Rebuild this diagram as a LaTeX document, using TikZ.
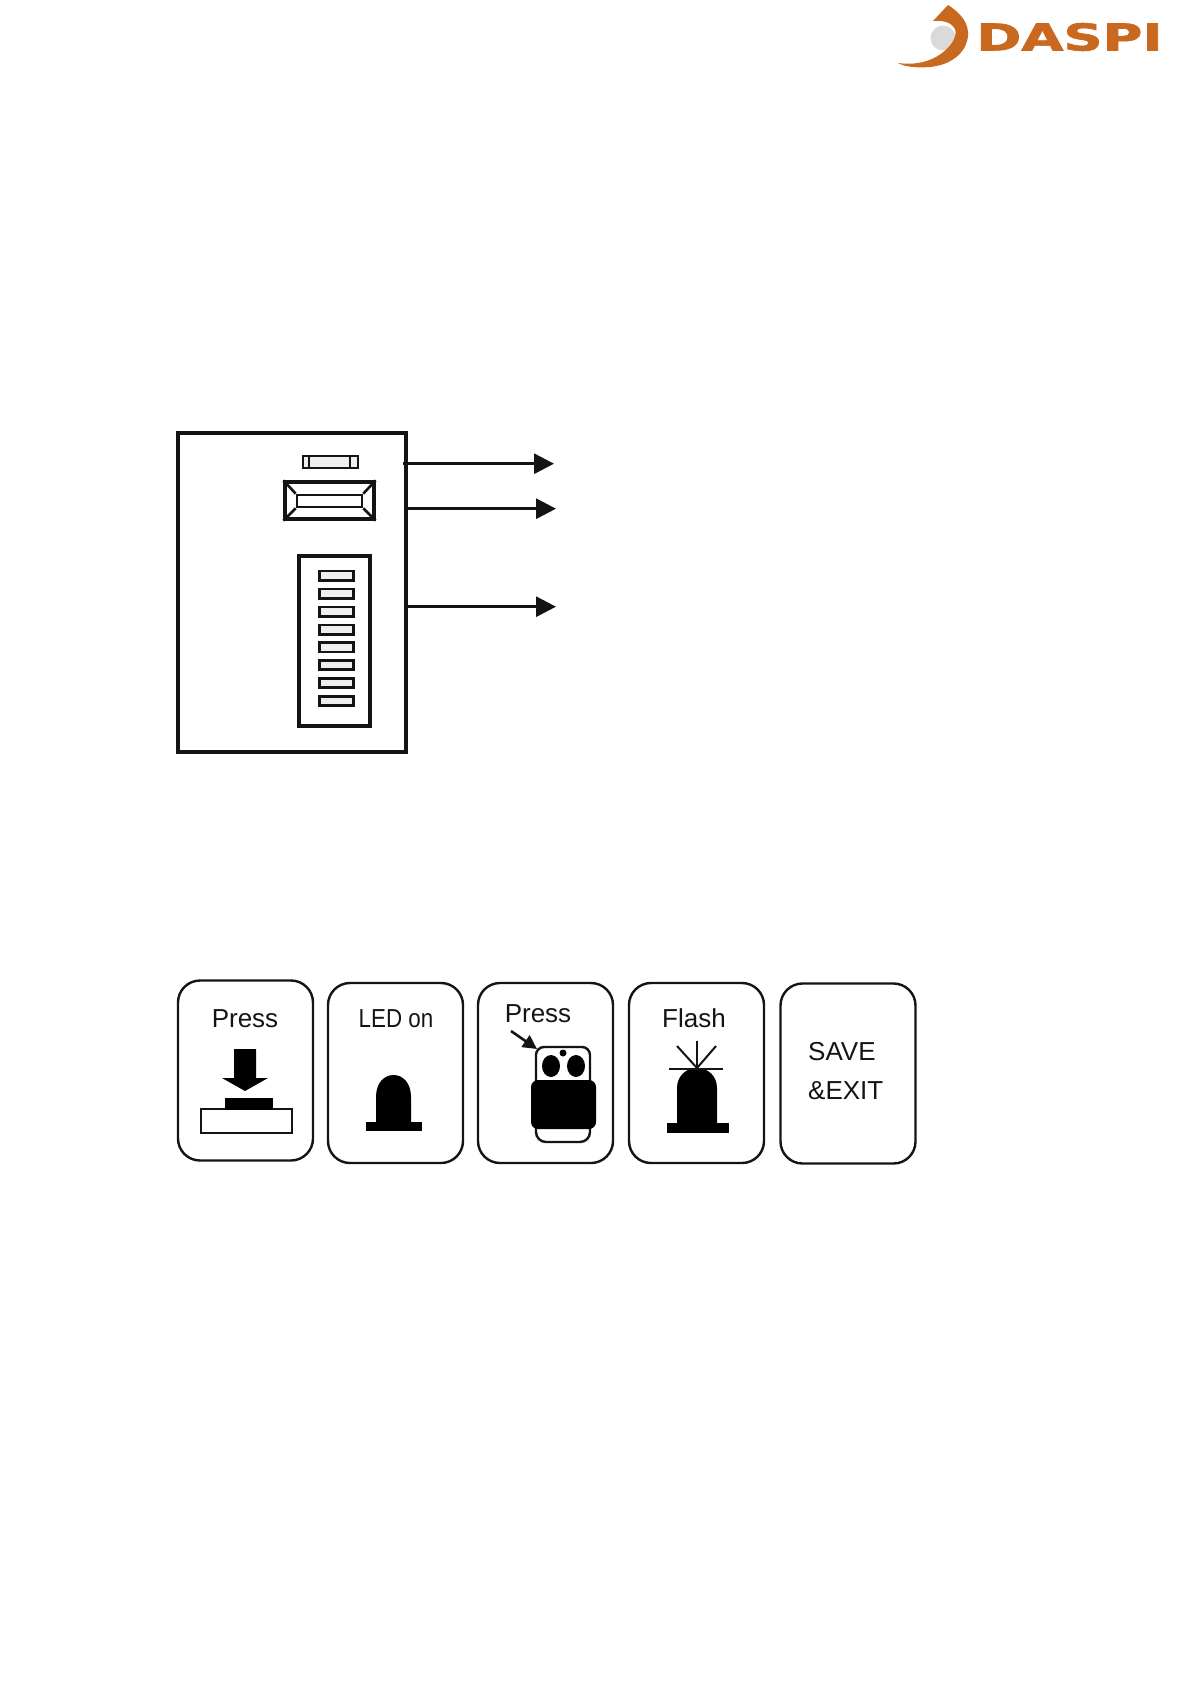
\documentclass[tikz,border=0pt]{standalone}
\usepackage{fontspec}
\setmainfont{Liberation Sans}
\newfontfamily\logofont[FakeBold=1.6]{DejaVu Sans Bold}
\usetikzlibrary{
  arrows.meta,
  calc,
  positioning
}
\definecolor{ink}{HTML}{141414}
\definecolor{brand}{HTML}{C9681F}
\definecolor{moon}{HTML}{DADADA}
\definecolor{cellgrey}{HTML}{EFEFEF}
\tikzset{
  signal/.style={
    -{Triangle[length=20pt,width=20pt]},
    line width=3pt,
    draw=ink
  },
  housing/.style={
    draw=ink,
    fill=white,
    line width=3.1pt,
    inner sep=0pt
  },
  ledcell/.style={
    draw=ink,
    fill=cellgrey,
    line width=2.6pt,
    minimum width=34pt,
    minimum height=9.5pt,
    inner sep=0pt
  },
  panel/.style={
    draw=ink,
    fill=white,
    line width=2.4pt,
    rounded corners=22pt,
    minimum width=135pt,
    minimum height=180pt,
    inner sep=0pt
  },
  caption/.style={
    anchor=base,
    text=ink,
    inner sep=0pt,
    font=\fontsize{26}{30}\selectfont
  },
  solid ink/.style={
    fill=black,
    draw=none
  }
}

\begin{document}
\begin{tikzpicture}[x=1pt, y=-1pt]
  \useasboundingbox (0,0) rectangle (1191,1684);

  % Logo.
  \fill[moon] (943,38) circle (12.5);
  \fill[brand] (948,5) .. controls (962,14) and (969,24) .. (968,36)
    .. controls (966,54) and (950,65) .. (930,67)
    .. controls (917,68) and (905,67) .. (898,63)
    .. controls (912,65) and (925,63) .. (936,57)
    .. controls (950,49) and (958,37) .. (955,29)
    .. controls (952,23) and (944,20) .. (933,21) -- cycle;
  \node[inner sep=0pt, text=brand, font=\logofont\fontsize{37}{37}\selectfont,
    anchor=west] (logotext) at (976,37) {\scalebox{1.47}[1]{DASPI}};

  % Controller board.
  \node[housing, minimum width=228pt, minimum height=319pt] (board)
    at (292,592.5) {};
  \node[housing, line width=2.6pt, fill=cellgrey, minimum width=55pt,
    minimum height=12pt] (fuse) at (330.5,462) {};
  \draw[ink, line width=2pt] ($(fuse.west)+(7,-6)$) -- ++(0,12);
  \draw[ink, line width=2pt] ($(fuse.east)+(-9,-6)$) -- ++(0,12);
  \node[housing, minimum width=89pt, minimum height=37pt] (button)
    at (329.5,500.5) {};
  \node[draw=ink, line width=2.6pt, minimum width=65pt, minimum height=12pt,
    inner sep=0pt] (buttonface) at (329.5,501) {};
  \foreach \corner in {north west, north east, south west, south east}
    \draw[ink, line width=2.6pt] (button.\corner) -- (buttonface.\corner);
  \node[housing, minimum width=71pt, minimum height=170pt] (strip)
    at (334.5,641) {};
  \foreach \n/\y in {1/575.7, 2/593.7, 3/611.7, 4/629.7,
    5/647.3, 6/665, 7/683, 8/701}
    \node[ledcell] (led\n) at (336.5,\y) {};

  % Arrows out of the board.
  \coordinate (fusefrom) at (403,463.7);
  \coordinate (fuseto) at (554,463.7);
  \coordinate (buttonfrom) at (board.east |- 0,508.7);
  \coordinate (buttonto) at (556,508.7);
  \coordinate (stripfrom) at (board.east |- 0,606.7);
  \coordinate (stripto) at (556,606.7);
  \draw[signal] (fusefrom) -- (fuseto);
  \draw[signal] (buttonfrom) -- (buttonto);
  \draw[signal] (stripfrom) -- (stripto);

  % Press.
  \node[panel] (presspanel) at (245.5,1070.5) {};
  \node[caption] (presstext) at (245,1027) {Press};
  \fill[black] (234,1049) -- (256,1049) -- (256,1078) -- (268,1078)
    -- (245,1091) -- (222,1078) -- (234,1078) -- cycle;
  \node[housing, line width=2.6pt, minimum width=91pt, minimum height=24pt]
    (pressbase) at (246.5,1121) {};
  \node[solid ink, minimum width=48pt, minimum height=12pt, inner sep=0pt]
    (presscap) at (249,1104) {};

  % LED on.
  \node[panel] (ledpanel) at (395.5,1073) {};
  \node[caption] (ledtext) at (396,1027) {\scalebox{0.86}[1]{LED on}};
  \node[solid ink, minimum width=56pt, minimum height=9pt, inner sep=0pt]
    (ledbase) at (394,1126.5) {};
  \fill[black] (376,1123) -- (376,1097) .. controls (376,1083) and (384,1075) .. (393.5,1075)
    .. controls (403,1075) and (411,1083) .. (411,1097) -- (411,1123) -- cycle;

  % Remote.
  \node[panel] (remotepanel) at (545.5,1073) {};
  \node[caption] (remotetext) at (538,1022) {Press};
  \draw[ink, line width=2.4pt, rounded corners=8pt, fill=white]
    (536,1085) -- (536,1047) -- (590,1047) -- (590,1085);
  \draw[ink, line width=2.4pt, rounded corners=10pt, fill=white]
    (536,1120) -- (536,1142) -- (590,1142) -- (590,1120);
  \node[solid ink, rounded corners=7pt, minimum width=65pt, minimum height=49pt,
    inner sep=0pt] (remotebody) at (563.5,1104.5) {};
  \fill[black] (551,1066) ellipse (9 and 11);
  \fill[black] (576,1066) ellipse (9 and 11);
  \fill[black] (563,1053) circle (3.5);
  \coordinate (remotefrom) at (511,1031);
  \coordinate (remoteto) at (537,1049);
  \draw[-{Triangle[length=14pt,width=14pt]}, line width=2.6pt, draw=ink]
    (remotefrom) -- (remoteto);

  % Flash.
  \node[panel] (flashpanel) at (696.5,1073) {};
  \node[caption] (flashtext) at (694,1027) {Flash};
  \node[solid ink, minimum width=62pt, minimum height=10pt, inner sep=0pt]
    (flashbase) at (698,1128) {};
  \fill[black] (677,1124) -- (677,1088) .. controls (677,1076) and (686,1068) .. (697,1068)
    .. controls (708,1068) and (717,1076) .. (717,1088) -- (717,1124) -- cycle;
  \coordinate (flashhub) at (697,1068);
  \draw[ink, line width=2pt] (flashhub) -- (697,1041);
  \draw[ink, line width=2pt] (flashhub) -- (677,1046);
  \draw[ink, line width=2pt] (flashhub) -- (716,1046);
  \draw[ink, line width=2pt] (669,1069) -- (723,1069);

  % Save and exit.
  \node[panel] (savepanel) at (848,1073.5) {};
  \node[caption, anchor=base west] (savetext) at (808,1060) {SAVE};
  \node[caption, anchor=base west] (exittext) at (808,1099) {\&EXIT};
\end{tikzpicture}
\end{document}
